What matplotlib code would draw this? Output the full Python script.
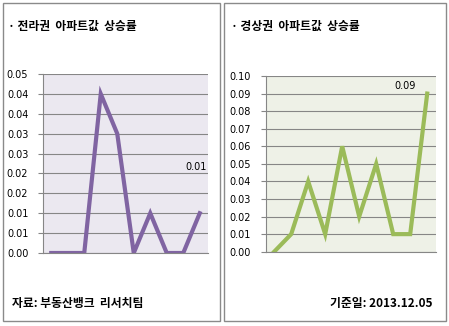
import matplotlib
matplotlib.use("Agg")
import matplotlib.pyplot as plt
from matplotlib.patches import Rectangle

plt.rcParams['font.family'] = ['Noto Sans CJK KR', 'DejaVu Sans']

# weekly apartment price change (%), 10 observations per region
weeks = list(range(10))
jeolla = [0, 0, 0, 0.04, 0.03, 0, 0.01, 0, 0, 0.01]
gyeongsang = [0, 0.01, 0.04, 0.01, 0.06, 0.02, 0.05, 0.01, 0.01, 0.09]

jeolla_ticks = [0.0, 0.005, 0.01, 0.015, 0.02, 0.025, 0.03, 0.035, 0.04, 0.045]
jeolla_ticklabels = ["0.00", "0.01", "0.01", "0.02", "0.02",
                     "0.03", "0.03", "0.04", "0.04", "0.05"]
gyeongsang_ticks = [i / 100 for i in range(11)]
gyeongsang_ticklabels = ["%.2f" % t for t in gyeongsang_ticks]

titles = ["· 전라권  아파트값  상승률", "· 경상권  아파트값  상승률"]
source = "자료: 부동산뱅크  리서치팀"
base_date = "기준일: 2013.12.05"

W, H = 449, 326
fig = plt.figure(figsize=(W / 100, H / 100), dpi=100)
fig.patch.set_facecolor("white")


def px(x, y):
    return x / W, 1 - y / H


# panel frames
for x0, x1 in [(3, 219.5), (223.5, 446)]:
    fig.patches.append(Rectangle(px(x0, 321), (x1 - x0) / W, 318 / H,
                                 transform=fig.transFigure, fill=False,
                                 edgecolor="#8a8a8a", linewidth=1.0))


def panel(rect, values, ticks, ticklabels, ymax, color, bg, label_idx, label_off):
    ax = fig.add_axes(rect)
    ax.set_facecolor(bg)
    ax.plot(weeks, values, color=color, linewidth=3.0, solid_joinstyle="miter")
    ax.set_xlim(-0.5, 9.5)
    ax.set_ylim(0, ymax)
    ax.set_yticks(ticks)
    ax.set_yticklabels(ticklabels, fontsize=7, family="DejaVu Sans")
    ax.set_xticks([])
    ax.yaxis.grid(True, color="#868686", linewidth=0.8)
    ax.set_axisbelow(True)
    ax.tick_params(axis="y", length=3.6, width=0.8, color="#868686", pad=7)
    for s in ["top", "right"]:
        ax.spines[s].set_visible(False)
    for s in ["left", "bottom"]:
        ax.spines[s].set_color("#868686")
        ax.spines[s].set_linewidth(0.8)
    ax.annotate("%.2f" % values[label_idx], (weeks[label_idx], values[label_idx]),
                xytext=label_off, textcoords="offset points", ha="center",
                va="center", fontsize=7, family="DejaVu Sans")
    return ax


panel([43 / W, 1 - 253 / H, 165 / W, 179 / H], jeolla, jeolla_ticks,
      jeolla_ticklabels, 0.045, "#8064A2", "#EBE8F0", 9, (-2.7, 33))
panel([265.7 / W, 1 - 251.7 / H, 170 / W, 175.7 / H], gyeongsang,
      gyeongsang_ticks, gyeongsang_ticklabels, 0.10, "#9BBB59", "#EEF1E7", 9,
      (-15.6, 5.5))

fig.text(*px(8, 26), titles[0], fontsize=8.5, fontweight="bold", va="center")
fig.text(*px(231, 26), titles[1], fontsize=8.5, fontweight="bold", va="center")
fig.text(*px(12, 303), source, fontsize=8.5, fontweight="bold", va="center")
fig.text(*px(433, 303), base_date, fontsize=8.5, fontweight="bold",
         va="center", ha="right")

fig.savefig("out.png", dpi=100)
